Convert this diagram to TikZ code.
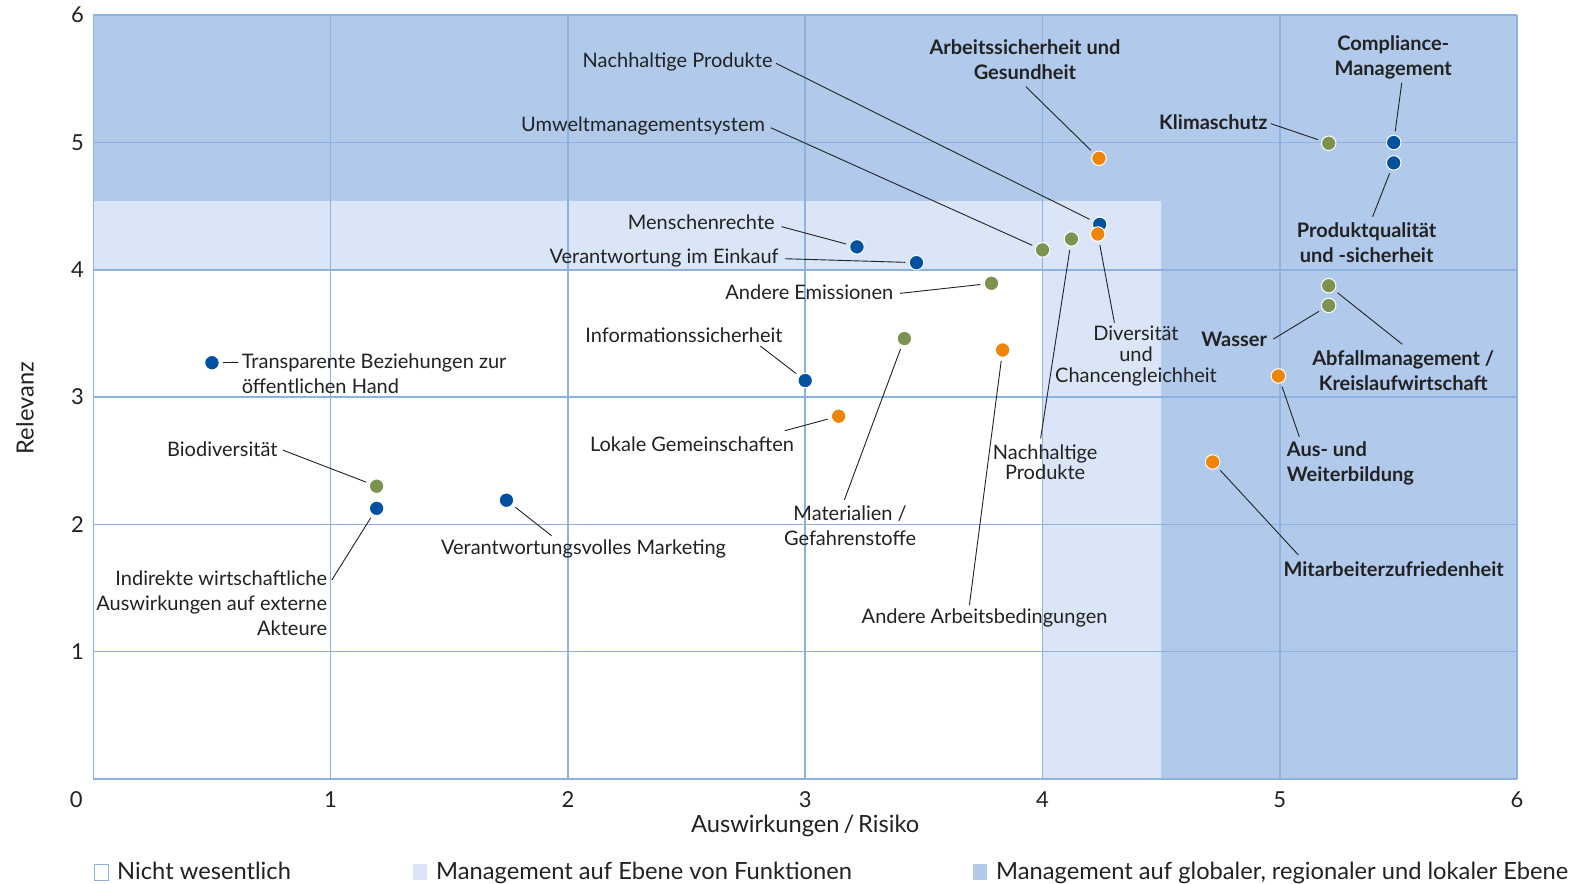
\documentclass[tikz,border=0pt]{standalone}
\usepackage{fontspec}
\setmainfont{Lato}
\definecolor{bandDark}{RGB}{177,201,235}
\definecolor{bandLight}{RGB}{218,229,247}
\definecolor{gridBlue}{RGB}{141,178,226}
\definecolor{dotBlue}{RGB}{0,81,159}
\definecolor{dotGreen}{RGB}{124,147,80}
\definecolor{dotOrange}{RGB}{238,132,8}
\definecolor{txt}{RGB}{34,34,34}
\begin{document}
\begin{tikzpicture}[x=237.3bp,y=127.3bp,
  dot/.style={circle,draw=white,line width=1bp,minimum size=14.5bp,inner sep=0pt,outer sep=4bp},
  bl/.style={dot,fill=dotBlue},gr/.style={dot,fill=dotGreen},og/.style={dot,fill=dotOrange},
  lab/.style={inner sep=0pt,text=txt,font=\fontsize{20bp}{25bp}\selectfont},
  labb/.style={lab,font=\fontsize{20bp}{25bp}\selectfont\bfseries},
  tick/.style={inner sep=0pt,text=txt,font=\fontsize{22bp}{26bp}\selectfont},
  title/.style={tick,font=\fontsize{23.7bp}{28bp}\selectfont},
  key/.style={draw=gridBlue,line width=1bp,minimum width=14bp,minimum height=16bp,inner sep=0pt},
  lead/.style={line width=0.9bp,draw=txt}]
\useasboundingbox (-0.3932,-0.8248) rectangle (6.3325,6.1194);
% bands and grid
\fill[bandDark] (0,0) rectangle (6,6);
\fill[bandLight] (0,4.54)--(4.5,4.54)--(4.5,0)--(4,0)--(4,4)--(0,4)--cycle;
\fill[white] (0,0) rectangle (4,4);
\foreach \i in {0,...,6}{\draw[gridBlue,line width=1.6bp] (\i,0)--(\i,6) (0,\i)--(6,\i);}
% axes
\foreach \i in {1,...,6}{\node[tick] (x\i) at (\i,-0.165) {\i};\node[tick] (y\i) at (-0.067,\i) {\i};}
\node[tick] (o) at (-0.072,-0.165) {0};
\node[title] (xt) at (3.0,-0.369) {Auswirkungen\,/\,Risiko};
\node[title,rotate=90] (yt) at (-0.288,2.914) {Relevanz};
% legend
\node[key,fill=white] (k1) at (0.035,-0.733) {};
\node[key,draw=none,fill=bandLight] (k2) at (1.377,-0.733) {};
\node[key,draw=none,fill=bandDark] (k3) at (3.737,-0.733) {};
\node[title,anchor=base west] (t1) at (0.100,-0.793) {Nicht wesentlich};
\node[title,anchor=base west] (t2) at (1.444,-0.793) {Management auf Ebene von Funktionen};
\node[title,anchor=base west] (t3) at (3.804,-0.793) {Management auf globaler, regionaler und lokaler Ebene};
% dots
\node[bl] (Tr) at (0.50,3.27) {};
\node[gr] (Bio) at (1.194,2.30) {};
\node[bl] (Ind) at (1.194,2.126) {};
\node[bl] (Mkt) at (1.741,2.19) {};
\node[bl] (Info) at (3.00,3.13) {};
\node[og] (Lok) at (3.141,2.85) {};
\node[gr] (Mat) at (3.418,3.46) {};
\node[og] (ArbB) at (3.832,3.37) {};
\node[bl] (Mr) at (3.218,4.18) {};
\node[bl] (Ek) at (3.469,4.056) {};
\node[gr] (Em) at (3.785,3.894) {};
\node[gr] (Ums) at (4.00,4.156) {};
\node[gr] (NPg) at (4.122,4.242) {};
\node[bl] (NPb) at (4.241,4.357) {};
\node[og] (Div) at (4.233,4.281) {};
\node[og] (As) at (4.238,4.876) {};
\node[gr] (Kl) at (5.206,4.994) {};
\node[bl] (Cm) at (5.48,5.0) {};
\node[bl] (Pq) at (5.48,4.84) {};
\node[gr] (Ab) at (5.206,3.875) {};
\node[gr] (Wa) at (5.206,3.72) {};
\node[og] (Aw) at (4.994,3.166) {};
\node[og] (Mz) at (4.717,2.49) {};
% labels
\node[lab,anchor=west,align=left] (lTr) at (0.625,3.18) {Transparente Beziehungen zur\\öffentlichen Hand};
\node[lab,anchor=east] (lBio) at (0.777,2.59) {Biodiversität};
\node[lab,anchor=east,align=right] (lInd) at (0.986,1.384) {Indirekte wirtschaftliche\\Auswirkungen auf externe\\Akteure};
\node[lab] (lMkt) at (2.066,1.804) {Verantwortungsvolles Marketing};
\node[lab] (lInfo) at (2.489,3.488) {Informationssicherheit};
\node[lab] (lLok) at (2.523,2.632) {Lokale Gemeinschaften};
\node[lab,align=center] (lMat) at (3.189,1.989) {Materialien /\\Gefahrenstoffe};
\node[lab] (lArbB) at (3.756,1.262) {Andere Arbeitsbedingungen};
\node[lab,anchor=east] (lMr) at (2.872,4.37) {Menschenrechte};
\node[lab,anchor=east] (lEk) at (2.889,4.095) {Verantwortung im Einkauf};
\node[lab,anchor=east] (lEm) at (3.372,3.823) {Andere Emissionen};
\node[lab,anchor=east] (lUms) at (2.831,5.132) {Umweltmanagementsystem};
\node[lab,anchor=east] (lNPb) at (2.863,5.635) {Nachhaltige Produkte};
\node[lab,align=center,font=\fontsize{20bp}{20.6bp}\selectfont] (lNPg) at (4.011,2.49) {Nachhaltige\\Produkte};
\node[lab,align=center,font=\fontsize{20bp}{21bp}\selectfont] (lDiv) at (4.394,3.324) {Diversität\\und\\Chancengleichheit};
\node[labb,align=center] (lAs) at (3.926,5.654) {Arbeitssicherheit und\\Gesundheit};
\node[labb,anchor=east] (lKl) at (4.949,5.163) {Klimaschutz};
\node[labb,align=center] (lCm) at (5.478,5.665) {Compliance-\\Management};
\node[labb,align=center] (lPq) at (5.366,4.217) {Produktqualität\\und -sicherheit};
\node[labb,align=center] (lAb) at (5.52,3.211) {Abfallmanagement /\\Kreislaufwirtschaft};
\node[labb,anchor=east] (lWa) at (4.947,3.456) {Wasser};
\node[labb,anchor=west,align=left] (lAw) at (5.029,2.479) {Aus- und\\Weiterbildung};
\node[labb,anchor=west] (lMz) at (5.015,1.647) {Mitarbeiterzufriedenheit};
% leader ends
\coordinate (cTr) at (0.611,3.273);\coordinate (cBio) at (0.798,2.584);\coordinate (cInd) at (1.005,1.563);
\coordinate (cMkt) at (1.931,1.911);\coordinate (cInfo) at (2.811,3.401);\coordinate (cLok) at (2.914,2.736);
\coordinate (cMat) at (3.165,2.192);\coordinate (cArbB) at (3.692,1.367);\coordinate (cMr) at (2.900,4.339);
\coordinate (cEk) at (2.914,4.087);\coordinate (cEm) at (3.400,3.815);\coordinate (cUms) at (2.855,5.116);
\coordinate (cNPg) at (3.992,2.676);\coordinate (cDiv) at (4.303,3.584);\coordinate (cNPb) at (2.877,5.622);
\coordinate (cAs) at (3.930,5.438);\coordinate (cKl) at (4.962,5.148);\coordinate (cCm) at (5.514,5.470);
\coordinate (cPq) at (5.391,4.417);\coordinate (cAb) at (5.516,3.415);\coordinate (cWa) at (4.973,3.456);
\coordinate (cAw) at (5.082,2.689);\coordinate (cMz) at (5.078,1.760);
\draw[lead] (cTr)--(Tr) (cBio)--(Bio) (cInd)--(Ind) (cMkt)--(Mkt) (cInfo)--(Info) (cLok)--(Lok) (cMat)--(Mat) (cArbB)--(ArbB) (cMr)--(Mr) (cEk)--(Ek) (cEm)--(Em) (cUms)--(Ums) (cNPg)--(NPg) (cDiv)--(Div) (cNPb)--(NPb) (cAs)--(As) (cKl)--(Kl) (cCm)--(Cm) (cPq)--(Pq) (cAb)--(Ab) (cWa)--(Wa) (cAw)--(Aw) (cMz)--(Mz);
\end{tikzpicture}
\end{document}
